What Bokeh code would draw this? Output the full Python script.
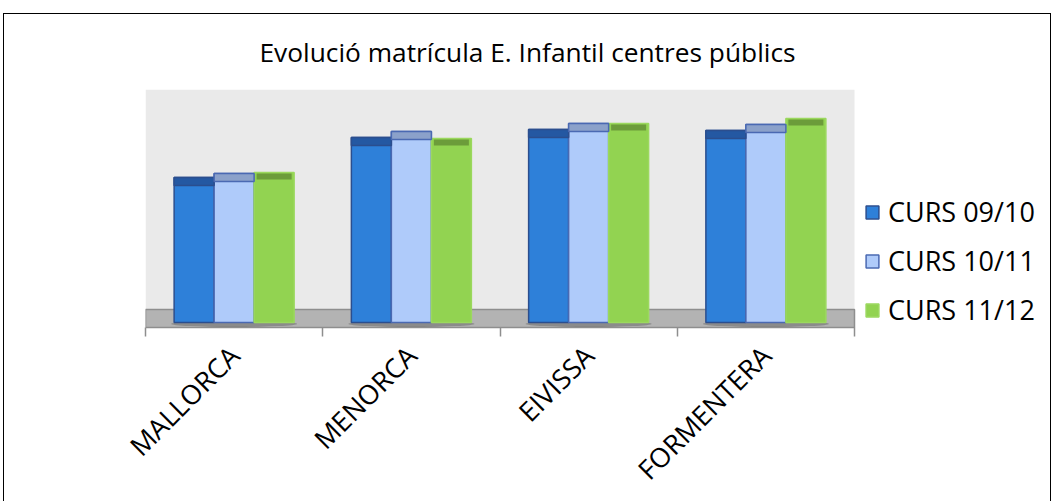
import math
from bokeh.plotting import figure
from bokeh.models import Range1d, Legend, LegendItem, ColumnDataSource, FixedTicker
from bokeh.embed import file_html
from bokeh.resources import INLINE

# ---- data ----
islands = ["MALLORCA", "MENORCA", "EIVISSA", "FORMENTERA"]
series_names = ["CURS 09/10", "CURS 10/11", "CURS 11/12"]
curs_09_10 = [62.2, 79.4, 82.8, 82.4]
curs_10_11 = [63.9, 82.0, 85.4, 85.0]
curs_11_12 = [64.4, 79.0, 85.4, 87.6]
title_text = "Evolució matrícula E. Infantil centres públics"

# ---- styles / geometry ----
FONT = "Open Sans"
CAT_PX = 177.25               # width of one category, px
FRAME_W, FRAME_H = 905, 247
PX = 2.33                     # pixels per value unit
Y_TOP = 100.0
Y_BOTTOM = -(FRAME_H - Y_TOP * PX) / PX
n = len(islands)
X_END = FRAME_W / CAT_PX


def u(px):
    return px / PX


BAR_W = 40 / CAT_PX
centers = [i + 0.5 for i in range(n)]
bounds = list(range(n + 1))

fills = ["#2E80D9", "#AFCBFA", "#92D351"]
lines = ["#2B4E8E", "#4A69B2", "#9BD85E"]
cap_fills = ["#2458A2", "#8BA1CA", "#6C9C3A"]
cap_lines = ["#2B4E8E", "#4A69B2", "#6C9C3A"]
offsets = [-BAR_W, 0.0, BAR_W]
values = [curs_09_10, curs_10_11, curs_11_12]

p = figure(x_range=Range1d(0, X_END), y_range=Range1d(Y_BOTTOM, Y_TOP),
           frame_width=FRAME_W, frame_height=FRAME_H,
           min_border_left=141, min_border_right=0,
           min_border_top=75, min_border_bottom=0,
           output_backend="svg", toolbar_location=None, tools="")
p.margin = (13, 0, 0, 3)
p.styles = {"border-top": "1px solid #000", "border-left": "1px solid #000",
            "border-right": "1px solid #000"}

p.background_fill_color = "white"
p.border_fill_color = "white"
p.outline_line_color = None
p.grid.visible = False
p.yaxis.visible = False

# title
p.title.text = title_text
p.title.align = "left"
p.title.offset = 114
p.title.text_font = FONT
p.title.text_font_size = "26.3px"
p.title.text_font_style = "normal"
p.title.text_color = "#000000"
p.title.vertical_align = "top"
p.title.standoff = 35

# x axis: category names at centres, boundary ticks as minor ticks
ax = p.xaxis[0]
ax.ticker = FixedTicker(ticks=centers, minor_ticks=bounds)
ax.major_label_overrides = {c: name for c, name in zip(centers, islands)}
ax.axis_line_color = None
ax.major_tick_line_color = None
ax.major_tick_in = 0
ax.major_tick_out = 0
ax.minor_tick_line_color = "#8E8E8E"
ax.minor_tick_line_width = 1.5
ax.minor_tick_in = 9
ax.minor_tick_out = 0
ax.major_label_orientation = math.pi / 4
ax.major_label_text_font = FONT
ax.major_label_text_font_size = "27px"
ax.major_label_text_color = "#000000"
ax.major_label_standoff = 14

# back wall
p.quad(left=[0], right=[n], bottom=[u(13)], top=[Y_TOP],
       fill_color="#EAEAEA", line_color=None)
# floor
p.quad(left=[0], right=[n], bottom=[u(-5)], top=[u(13)],
       fill_color="#B3B3B3", line_color="#8E8E8E", line_width=1.5)
# shadows under the bars
p.ellipse(x=centers, y=[u(-1.5)] * n, width=3 * BAR_W * 1.05, height=u(6),
          fill_color="#000000", fill_alpha=0.22, line_color=None)

main = []
for i in range(3):
    xs = [c + offsets[i] for c in centers]
    src = ColumnDataSource(data=dict(x=xs, top=values[i]))
    r = p.vbar(x="x", top="top", bottom=0, width=BAR_W, source=src,
               fill_color=fills[i], line_color=lines[i], line_width=1.5)
    main.append(r)

# 3D caps on top of each bar
for i in range(3):
    xs = [c + offsets[i] for c in centers]
    if i < 2:
        p.vbar(x=xs, top=values[i], bottom=[v - u(8) for v in values[i]], width=BAR_W,
               fill_color=cap_fills[i], line_color=cap_lines[i], line_width=1.5)
    else:
        p.vbar(x=xs, top=[v - u(1) for v in values[i]], bottom=[v - u(7) for v in values[i]],
               width=BAR_W - 5 / CAT_PX, fill_color=cap_fills[i], line_color=None)

legend = Legend(items=[LegendItem(label=series_names[i], renderers=[main[i]]) for i in range(3)],
                location=(719, 8))
legend.orientation = "vertical"
legend.padding = 0
legend.margin = 0
legend.spacing = 12
legend.glyph_width = 16
legend.glyph_height = 16
legend.label_height = 30
legend.label_standoff = 8
legend.label_text_font = FONT
legend.label_text_font_size = "27px"
legend.label_text_color = "#000000"
legend.border_line_color = None
legend.background_fill_alpha = 0
p.add_layout(legend)

open("out.html", "w").write(file_html(p, INLINE))
